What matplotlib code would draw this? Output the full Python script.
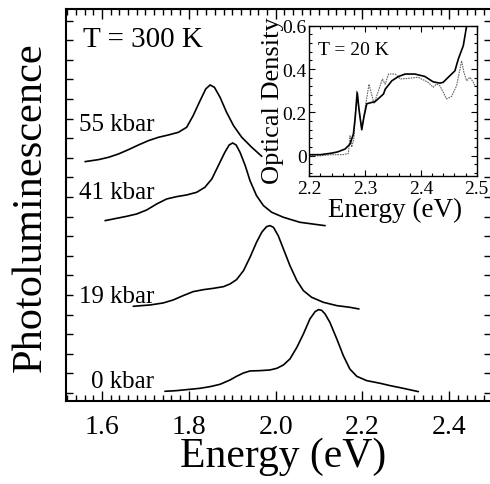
import matplotlib
matplotlib.use("Agg")
import matplotlib.pyplot as plt
from matplotlib.ticker import MultipleLocator, FixedLocator, NullFormatter

plt.rcParams['font.family'] = ['Liberation Serif', 'DejaVu Serif']

# ---------------- data ----------------
# photoluminescence spectra at 300 K (energy in eV, offset intensity in arbitrary units)
e_0kbar = [1.745, 1.772, 1.795, 1.826, 1.849, 1.872, 1.895, 1.910, 1.926, 1.941,
           1.964, 1.987, 2.003, 2.018, 2.033, 2.049, 2.064, 2.079, 2.091, 2.099,
           2.106, 2.114, 2.125, 2.141, 2.156, 2.171, 2.187, 2.210, 2.241, 2.264,
           2.294, 2.329]
i_0kbar = [0.085, 0.119, 0.170, 0.238, 0.323, 0.442, 0.663, 0.850, 1.020, 1.122,
           1.139, 1.173, 1.259, 1.429, 1.735, 2.330, 3.010, 3.776, 4.150, 4.252,
           4.218, 4.031, 3.605, 2.755, 1.905, 1.224, 0.850, 0.629, 0.493, 0.374,
           0.238, 0.068]

e_19kbar = [1.672, 1.711, 1.741, 1.764, 1.787, 1.810, 1.834, 1.857, 1.880, 1.895,
            1.910, 1.926, 1.941, 1.956, 1.968, 1.979, 1.987, 1.995, 2.006, 2.018,
            2.033, 2.049, 2.064, 2.083, 2.110, 2.141, 2.171, 2.192]
i_19kbar = [4.422, 4.490, 4.592, 4.745, 4.966, 5.170, 5.272, 5.340, 5.425, 5.561,
            5.782, 6.241, 6.922, 7.687, 8.197, 8.486, 8.537, 8.452, 8.027, 7.347,
            6.497, 5.731, 5.221, 4.881, 4.626, 4.456, 4.371, 4.286]

e_41kbar = [1.607, 1.634, 1.657, 1.680, 1.703, 1.726, 1.749, 1.772, 1.795, 1.818,
            1.837, 1.853, 1.868, 1.883, 1.893, 1.901, 1.909, 1.918, 1.930, 1.941,
            1.956, 1.972, 1.991, 2.018, 2.056, 2.102, 2.114]
i_41kbar = [8.792, 8.912, 9.014, 9.133, 9.337, 9.643, 9.898, 10.017, 10.102, 10.238,
            10.493, 10.918, 11.599, 12.279, 12.653, 12.755, 12.653, 12.279, 11.599, 10.833,
            10.068, 9.558, 9.218, 8.963, 8.708, 8.571, 8.536]

e_55kbar = [1.561, 1.592, 1.615, 1.638, 1.661, 1.684, 1.707, 1.730, 1.753, 1.776,
            1.795, 1.810, 1.826, 1.839, 1.849, 1.859, 1.872, 1.887, 1.903, 1.922,
            1.945, 1.968]
i_55kbar = [11.803, 11.905, 12.024, 12.194, 12.415, 12.653, 12.874, 13.044, 13.163, 13.299,
            13.554, 14.149, 14.915, 15.510, 15.714, 15.595, 15.085, 14.320, 13.639, 13.044,
            12.534, 12.075]

pressure_labels = ["0 kbar", "19 kbar", "41 kbar", "55 kbar"]
label_baselines = [0.29, 4.66, 9.95, 13.42]

# inset: optical density at 20 K
e_od_a = [2.200, 2.220, 2.240, 2.251, 2.264, 2.273, 2.279, 2.282, 2.286, 2.289,
          2.294, 2.298, 2.303, 2.318, 2.333, 2.336, 2.348, 2.360, 2.372, 2.389,
          2.407, 2.422, 2.434, 2.440, 2.449, 2.461, 2.467, 2.476, 2.482]
od_a = [0.005, 0.005, 0.012, 0.018, 0.031, 0.054, 0.100, 0.170, 0.290, 0.215,
        0.120, 0.180, 0.240, 0.250, 0.285, 0.307, 0.346, 0.366, 0.377, 0.377,
        0.366, 0.341, 0.335, 0.339, 0.362, 0.392, 0.446, 0.508, 0.600]

e_od_b = [2.200, 2.220, 2.240, 2.260, 2.270, 2.273, 2.276, 2.280, 2.285, 2.290,
          2.294, 2.300, 2.307, 2.316, 2.324, 2.331, 2.336, 2.342, 2.354, 2.363,
          2.377, 2.395, 2.413, 2.422, 2.428, 2.434, 2.440, 2.446, 2.455, 2.464,
          2.470, 2.473, 2.477, 2.482, 2.488, 2.494, 2.497]
od_b = [0.000, 0.000, 0.005, 0.005, 0.010, 0.092, 0.040, 0.080, 0.300, 0.200,
        0.123, 0.220, 0.330, 0.240, 0.300, 0.354, 0.330, 0.377, 0.377, 0.354,
        0.357, 0.362, 0.339, 0.316, 0.331, 0.323, 0.293, 0.262, 0.274, 0.323,
        0.400, 0.438, 0.385, 0.346, 0.362, 0.339, 0.323]

main_xticks = [1.6, 1.8, 2.0, 2.2, 2.4]
inset_xticks = [2.2, 2.3, 2.4, 2.5]
inset_yticks = [0, 0.2, 0.4, 0.6]

# ---------------- figure ----------------
W, H = 490, 485
fig = plt.figure(figsize=(W / 100, H / 100), dpi=100)

def rect(l, t, r, b):
    return [l / W, 1 - b / H, (r - l) / W, (b - t) / H]

ax = fig.add_axes(rect(66, 10, 491, 402))
for s in ax.spines.values():
    s.set_linewidth(1.5)

curves = [(e_0kbar, i_0kbar), (e_19kbar, i_19kbar), (e_41kbar, i_41kbar), (e_55kbar, i_55kbar)]
for (e, i) in curves:
    ax.plot(e, i, color='black', lw=1.2, solid_joinstyle='round', solid_capstyle='round')

ax.set_xlim(1.517, 2.4963)
ax.set_ylim(-0.41, 19.59)
ax.xaxis.set_major_locator(FixedLocator(main_xticks))
ax.xaxis.set_minor_locator(MultipleLocator(0.02))
ax.set_xticklabels([f"{v:.1f}" for v in main_xticks])
ax.yaxis.set_major_locator(MultipleLocator(1))
ax.yaxis.set_major_formatter(NullFormatter())
ax.tick_params(which='both', direction='in', top=True, right=True, width=1.0)
ax.tick_params(which='major', length=7)
ax.tick_params(which='minor', length=4)
ax.tick_params(axis='y', which='major', length=5)
ax.tick_params(axis='x', labelsize=20, pad=9)

for lab, yb in zip(pressure_labels, label_baselines):
    ax.text(1.72, yb, lab, fontsize=18, ha='right', va='baseline')
ax.text(1.556, 17.72, "T = 300 K", fontsize=21, ha='left', va='baseline')

fig.text(283.5 / W, 1 - 467 / H, "Energy (eV)", fontsize=30, ha='center', va='baseline')
fig.text(31 / W, 1 - 207 / H, "Photoluminescence", fontsize=30.5, rotation=90,
         ha='center', va='center')

# ---------------- inset ----------------
ins = fig.add_axes(rect(309.3, 26.7, 476.7, 176.7))
for s in ins.spines.values():
    s.set_linewidth(1.0)
ins.plot(e_od_b, od_b, color='0.4', lw=0.8, ls=(0, (1.5, 0.8)))
ins.plot(e_od_a, od_a, color='black', lw=1.2, solid_joinstyle='round')
ins.set_xlim(2.2, 2.5)
ins.set_ylim(-0.092, 0.6)
ins.xaxis.set_major_locator(FixedLocator(inset_xticks))
ins.xaxis.set_minor_locator(MultipleLocator(0.02))
ins.yaxis.set_major_locator(FixedLocator(inset_yticks))
ins.yaxis.set_minor_locator(MultipleLocator(0.04))
ins.set_xticklabels([f"{v:.1f}" for v in inset_xticks])
ins.set_yticklabels(["0" if v == 0 else f"{v:.1f}" for v in inset_yticks])
ins.tick_params(which='both', direction='in', top=True, right=True, width=0.8)
ins.tick_params(which='major', length=4)
ins.tick_params(which='minor', length=2.5)
ins.tick_params(axis='both', labelsize=14)
ins.tick_params(axis='x', pad=3)
ins.tick_params(axis='y', pad=2)
ins.text(2.2156, 0.469, "T = 20 K", fontsize=14, ha='left', va='baseline')

fig.text(395.5 / W, 1 - 216.7 / H, "Energy (eV)", fontsize=19.5, ha='center', va='baseline')
fig.text(273 / W, 1 - 101 / H, "Optical Density", fontsize=19, rotation=90,
         ha='center', va='center')

fig.savefig("out.png", dpi=100)
